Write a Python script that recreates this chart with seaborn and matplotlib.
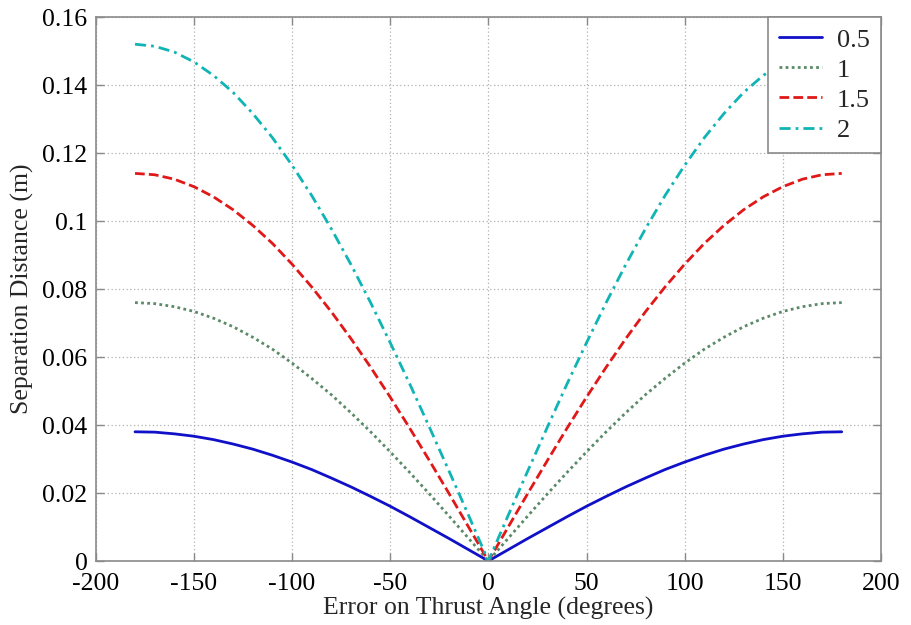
import numpy as np
import pandas as pd
import matplotlib
matplotlib.use("Agg")
import matplotlib.pyplot as plt
import seaborn as sns

# Data (separation distance, m) at |angle| = 0,10,...,180 deg
angles_half = [0, 10, 20, 30, 40, 50, 60, 70, 80, 90, 100, 110, 120, 130, 140, 150, 160, 170, 180]
s_05 = [0, .0033, .0066, .0098, .0130, .0161, .0190, .0218, .0244, .0269, .0291, .0311, .0329, .0344, .0357, .0367, .0374, .0379, .0380]
s_1 = [0, .0066, .0132, .0197, .0260, .0321, .0380, .0436, .0489, .0537, .0582, .0623, .0658, .0689, .0714, .0734, .0748, .0757, .0760]
s_15 = [0, .0099, .0198, .0295, .0390, .0482, .0570, .0654, .0733, .0806, .0873, .0934, .0987, .1033, .1071, .1101, .1123, .1136, .1140]
s_2 = [0, .0133, .0264, .0393, .0520, .0642, .0760, .0872, .0977, .1075, .1164, .1245, .1316, .1378, .1428, .1468, .1497, .1514, .1520]
labels = ["0.5", "1", "1.5", "2"]
series = [s_05, s_1, s_15, s_2]

xticks = [-200, -150, -100, -50, 0, 50, 100, 150, 200]
yticks = [0, 0.02, 0.04, 0.06, 0.08, 0.1, 0.12, 0.14, 0.16]
ytick_labels = ["0", "0.02", "0.04", "0.06", "0.08", "0.1", "0.12", "0.14", "0.16"]

colors = ["#1010c8", "#5a8a68", "#e01818", "#10b4b4"]
styles = ["-", (0, (1, 1.2)), (0, (3.5, 1.5)), (0, (4, 1.8, 1, 1.8))]

rows = []
for lab, vals in zip(labels, series):
    xs = [-a for a in angles_half[::-1]] + angles_half[1:]
    ys = vals[::-1] + vals[1:]
    for x, y in zip(xs, ys):
        rows.append({"angle": x, "dist": y, "k": lab})
df = pd.DataFrame(rows)

sns.set_theme(style="white")
plt.rcParams["font.family"] = ["Liberation Serif", "DejaVu Serif"]

fig = plt.figure(figsize=(9.12, 6.25), dpi=100)
ax = fig.add_axes([0.105, 0.1024, 0.861, 0.8704])

for lab, c, ls in zip(labels, colors, styles):
    sns.lineplot(data=df[df["k"] == lab], x="angle", y="dist", ax=ax, color=c,
                 linestyle=ls, linewidth=2.0, label=lab, estimator=None, sort=False)

ax.set_xlim(-200, 200)
ax.set_ylim(0, 0.16)
ax.set_xticks(xticks)
ax.set_xticklabels([str(t) for t in xticks])
ax.set_yticks(yticks)
ax.set_yticklabels(ytick_labels)
ax.grid(True, color="#b0b0b0", linestyle=(0, (1, 2)), linewidth=0.9)
for sp in ax.spines.values():
    sp.set_color("#8a8a8a")
    sp.set_linewidth(1.2)
ax.tick_params(direction="in", length=6, width=1, color="#8a8a8a", labelsize=18.5,
               top=True, right=True, bottom=True, left=True, labelcolor="black", pad=6)
ax.tick_params(axis="x", pad=9)
ax.set_xlabel("Error on Thrust Angle (degrees)", fontsize=18.5, labelpad=1)
ax.set_ylabel("Separation Distance (m)", fontsize=18.5, labelpad=6)

leg = ax.legend(loc="upper right", fontsize=19, frameon=True, fancybox=False,
                borderaxespad=0.0, handlelength=1.65, handletextpad=0.55,
                labelspacing=0.25, borderpad=0.42)
leg.get_frame().set_edgecolor("#8a8a8a")
leg.get_frame().set_linewidth(1.2)
leg.get_frame().set_alpha(1)

fig.savefig("out.png", dpi=100)
